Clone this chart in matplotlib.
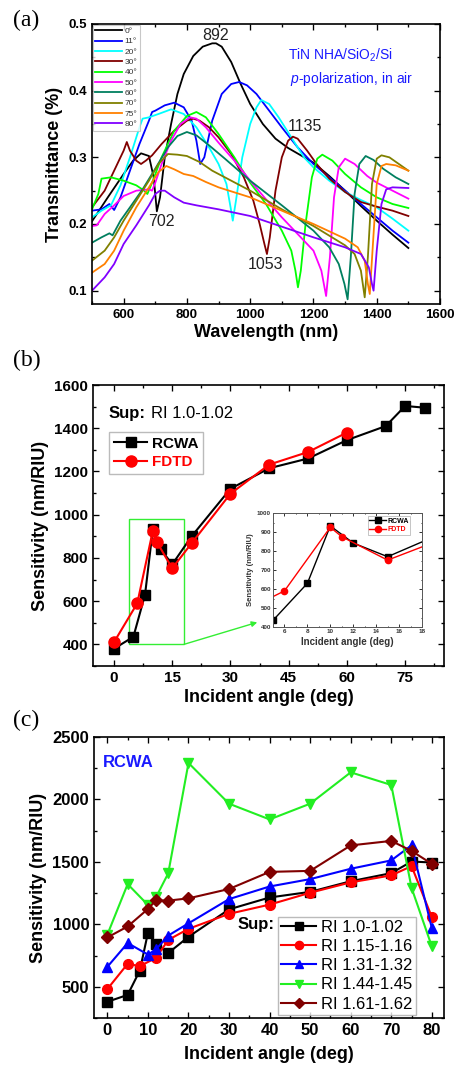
import numpy as np
import matplotlib
matplotlib.use("Agg")
import matplotlib.pyplot as plt
from matplotlib.ticker import MultipleLocator
from matplotlib.patches import Rectangle

plt.rcParams['font.family'] = ['Liberation Sans', 'DejaVu Sans']
plt.rcParams['font.weight'] = 'bold'
plt.rcParams['axes.labelweight'] = 'bold'
plt.rcParams['mathtext.fontset'] = 'custom'
plt.rcParams['mathtext.rm'] = 'Liberation Sans:weight=normal'
plt.rcParams['mathtext.it'] = 'Liberation Sans:style=italic:weight=normal'
plt.rcParams['mathtext.default'] = 'regular'

# (a) transmittance spectra, TiN NHA/SiO2/Si, p-pol, in air
wl_0 = [500, 550, 600, 630, 655, 680, 695, 705, 715, 730, 750, 770, 790, 820, 850, 880, 892, 910, 940, 970,
        1000, 1040, 1080, 1120, 1160, 1200, 1250, 1300, 1350, 1400, 1450, 1500]
T_0 = [0.204, 0.24, 0.275, 0.295, 0.306, 0.302, 0.27, 0.219, 0.24, 0.30, 0.35, 0.395, 0.425, 0.452, 0.466,
       0.471, 0.471, 0.466, 0.443, 0.41, 0.38, 0.35, 0.328, 0.314, 0.303, 0.292, 0.272, 0.25, 0.227, 0.205,
       0.184, 0.164]
wl_11 = [500, 530, 555, 570, 590, 620, 650, 680, 690, 700, 730, 760, 790, 815, 830, 842, 855, 880, 910, 940,
         965, 990, 1020, 1060, 1100, 1150, 1200, 1250, 1300, 1350, 1400, 1450, 1500]
T_11 = [0.22, 0.222, 0.23, 0.221, 0.24, 0.28, 0.32, 0.355, 0.368, 0.37, 0.378, 0.382, 0.375, 0.355, 0.325,
        0.29, 0.30, 0.355, 0.395, 0.41, 0.413, 0.408, 0.395, 0.37, 0.345, 0.315, 0.29, 0.27, 0.25, 0.23, 0.21,
        0.19, 0.172]
wl_20 = [500, 530, 560, 590, 620, 650, 660, 680, 710, 750, 790, 830, 870, 900, 925, 938, 945, 955, 975, 1000,
         1020, 1035, 1060, 1090, 1130, 1170, 1200, 1250, 1300, 1350, 1400, 1450, 1500]
T_20 = [0.21, 0.22, 0.228, 0.258, 0.3, 0.345, 0.358, 0.36, 0.365, 0.372, 0.365, 0.345, 0.315, 0.29, 0.26,
        0.225, 0.205, 0.235, 0.3, 0.35, 0.375, 0.386, 0.38, 0.36, 0.33, 0.3, 0.285, 0.265, 0.248, 0.236, 0.225,
        0.208, 0.19]
wl_30 = [500, 540, 575, 600, 610, 620, 640, 655, 670, 690, 720, 760, 800, 820, 840, 870, 900, 940, 980, 1010,
         1030, 1045, 1053, 1062, 1080, 1100, 1120, 1135, 1150, 1180, 1210, 1250, 1300, 1350, 1400, 1450, 1500]
T_30 = [0.225, 0.25, 0.285, 0.31, 0.323, 0.31, 0.295, 0.29, 0.295, 0.303, 0.32, 0.34, 0.355, 0.358, 0.355,
        0.345, 0.33, 0.305, 0.27, 0.235, 0.2, 0.17, 0.155, 0.18, 0.25, 0.3, 0.325, 0.331, 0.328, 0.31, 0.29,
        0.268, 0.248, 0.233, 0.226, 0.22, 0.212]
wl_40 = [500, 520, 530, 560, 600, 640, 665, 675, 690, 720, 760, 800, 830, 860, 900, 950, 1000, 1050, 1100,
         1130, 1143, 1151, 1160, 1175, 1195, 1212, 1228, 1260, 1300, 1350, 1400, 1450, 1500]
T_40 = [0.222, 0.245, 0.268, 0.27, 0.265, 0.258, 0.25, 0.245, 0.262, 0.3, 0.34, 0.362, 0.368, 0.36, 0.335,
        0.3, 0.262, 0.23, 0.19, 0.16, 0.13, 0.105, 0.13, 0.2, 0.27, 0.298, 0.304, 0.295, 0.275, 0.255, 0.24,
        0.23, 0.224]
wl_50 = [500, 515, 540, 570, 600, 640, 680, 690, 700, 720, 750, 780, 810, 830, 860, 900, 950, 1000, 1050, 1100,
         1150, 1200, 1225, 1240, 1252, 1265, 1280, 1300, 1330, 1370, 1400, 1450, 1500]
T_50 = [0.197, 0.198, 0.215, 0.228, 0.242, 0.25, 0.252, 0.25, 0.262, 0.29, 0.325, 0.35, 0.36, 0.358, 0.345,
        0.322, 0.295, 0.265, 0.237, 0.21, 0.185, 0.16, 0.13, 0.092, 0.15, 0.24, 0.285, 0.298, 0.29, 0.272,
        0.262, 0.25, 0.238]
wl_60 = [500, 530, 555, 565, 590, 620, 660, 700, 740, 770, 800, 830, 870, 920, 1000, 1100, 1200, 1250, 1280,
         1298, 1308, 1318, 1330, 1345, 1365, 1390, 1420, 1460, 1500]
T_60 = [0.172, 0.18, 0.186, 0.183, 0.205, 0.225, 0.252, 0.283, 0.315, 0.332, 0.338, 0.333, 0.318, 0.298,
        0.265, 0.228, 0.19, 0.165, 0.14, 0.11, 0.087, 0.15, 0.245, 0.29, 0.302, 0.296, 0.283, 0.27, 0.26]
wl_70 = [500, 540, 570, 600, 640, 680, 710, 740, 770, 800, 840, 880, 920, 1000, 1100, 1200, 1300, 1330, 1350,
         1362, 1372, 1385, 1400, 1415, 1440, 1470, 1500]
T_70 = [0.145, 0.16, 0.18, 0.205, 0.235, 0.265, 0.29, 0.305, 0.304, 0.302, 0.293, 0.28, 0.27, 0.25, 0.222,
        0.197, 0.168, 0.155, 0.13, 0.09, 0.15, 0.26, 0.298, 0.303, 0.3, 0.29, 0.28]
wl_75 = [500, 540, 570, 600, 640, 680, 710, 735, 760, 790, 820, 860, 900, 1000, 1100, 1200, 1300, 1340, 1362,
         1372, 1378, 1388, 1400, 1415, 1430, 1460, 1500]
T_75 = [0.127, 0.14, 0.16, 0.19, 0.225, 0.255, 0.278, 0.287, 0.282, 0.275, 0.272, 0.263, 0.255, 0.24, 0.22,
        0.2, 0.178, 0.165, 0.145, 0.11, 0.095, 0.17, 0.26, 0.287, 0.29, 0.288, 0.28]
wl_80 = [500, 540, 570, 600, 640, 680, 700, 715, 730, 760, 790, 830, 900, 1000, 1100, 1200, 1300, 1350, 1375,
         1385, 1390, 1400, 1415, 1430, 1450, 1500]
T_80 = [0.1, 0.12, 0.14, 0.17, 0.198, 0.228, 0.245, 0.25, 0.25, 0.24, 0.232, 0.228, 0.222, 0.212, 0.196, 0.18,
        0.165, 0.155, 0.135, 0.11, 0.1, 0.16, 0.23, 0.252, 0.255, 0.254]

spectra = [("0°", wl_0, T_0, "black"), ("11°", wl_11, T_11, "#0000ff"), ("20°", wl_20, T_20, "#00ffff"),
           ("30°", wl_30, T_30, "#800000"), ("40°", wl_40, T_40, "#00ff00"), ("50°", wl_50, T_50, "#ff00ff"),
           ("60°", wl_60, T_60, "#007f5f"), ("70°", wl_70, T_70, "#808000"), ("75°", wl_75, T_75, "#ff8000"),
           ("80°", wl_80, T_80, "#8000ff")]

# (b) sensitivity vs angle, RI 1.0-1.02
ang_rcwa = [0, 5, 8, 10, 12, 15, 20, 30, 40, 50, 60, 70, 75, 80]
S_rcwa = [380, 435, 630, 932, 842, 770, 900, 1120, 1215, 1260, 1345, 1410, 1503, 1495]
ang_fdtd = [0, 6, 10, 11, 15, 20, 30, 40, 50, 60]
S_fdtd = [410, 590, 925, 875, 752, 868, 1097, 1232, 1290, 1380]

# (c) RCWA sensitivity for several superstrates
ang_115 = [0, 5, 8, 12, 15, 20, 30, 40, 50, 60, 70, 75, 80]
S_115 = [482, 684, 665, 732, 875, 964, 1084, 1158, 1253, 1336, 1392, 1466, 1058]
ang_c = [0, 5, 10, 12, 15, 20, 30, 40, 50, 60, 70, 75, 80]
S_131 = [660, 850, 758, 800, 910, 1008, 1202, 1303, 1362, 1445, 1512, 1633, 970]
S_144 = [918, 1322, 1155, 1218, 1408, 2292, 1966, 1840, 1966, 2217, 2116, 1292, 823]
S_161 = [895, 983, 1123, 1192, 1190, 1208, 1283, 1420, 1428, 1632, 1668, 1588, 1484]

W, H = 457, 1078
fig = plt.figure(figsize=(W / 100, H / 100), dpi=100)


def box(l, t, r, b):
    return [l / W, 1 - b / H, (r - l) / W, (b - t) / H]


def style(ax, size, lw=1.2, maj=4, mnr=2):
    ax.tick_params(which='both', direction='in', top=True, right=True, width=lw * 0.8, labelsize=size)
    ax.tick_params(which='major', length=maj)
    ax.tick_params(which='minor', length=mnr)
    for s in ax.spines.values():
        s.set_linewidth(lw)


# ---- (a)
ax1 = fig.add_axes(box(92, 24, 440, 304))
for lab, x, y, c in spectra:
    ax1.plot(x, y, color=c, lw=1.3, label=lab)
ax1.set_xlim(500, 1600)
ax1.set_ylim(0.08, 0.5)
ax1.xaxis.set_major_locator(MultipleLocator(200))
ax1.xaxis.set_minor_locator(MultipleLocator(100))
ax1.yaxis.set_major_locator(MultipleLocator(0.1))
ax1.yaxis.set_minor_locator(MultipleLocator(0.05))
style(ax1, 9.5)
ax1.set_xlabel("Wavelength (nm)", fontsize=13, labelpad=2)
ax1.set_ylabel("Transmittance (%)", fontsize=13, labelpad=4)
leg = ax1.legend(loc='upper left', frameon=True, fancybox=False, borderaxespad=0.1,
                 handlelength=3.2, handletextpad=0.3, labelspacing=0.3, borderpad=0.3,
                 prop={'size': 6, 'weight': 'normal'})
leg.get_frame().set_edgecolor('#bbbbbb')
leg.get_frame().set_linewidth(0.8)
for t in leg.get_texts():
    t.set_color('#333333')
for txt, x, y in [("892", 889, 0.483), ("702", 719, 0.203), ("1053", 1047, 0.139), ("1135", 1174, 0.346)]:
    ax1.text(x, y, txt, fontsize=11.5, fontweight='normal', color='#222222', ha='center', va='center')
ax1.text(1284, 0.453, "TiN NHA/SiO$_2$/Si", color='#1a1aff', fontsize=10, fontweight='normal',
         ha='center', va='center')
ax1.text(1321, 0.417, "$\\it{p}$-polarization, in air", color='#1a1aff', fontsize=10, fontweight='normal',
         ha='center', va='center')

# ---- (b)
ax2 = fig.add_axes(box(93, 385, 444, 666))
ax2.plot(ang_rcwa, S_rcwa, color='black', lw=1.5, marker='s', ms=7, label='RCWA')
ax2.plot(ang_fdtd, S_fdtd, color='red', lw=1.5, marker='o', ms=8, label='FDTD')
ax2.set_xlim(-5.4, 85)
ax2.set_ylim(300, 1600)
ax2.xaxis.set_major_locator(MultipleLocator(15))
ax2.xaxis.set_minor_locator(MultipleLocator(7.5))
ax2.yaxis.set_major_locator(MultipleLocator(200))
ax2.yaxis.set_minor_locator(MultipleLocator(100))
style(ax2, 11)
ax2.set_xlabel("Incident angle (deg)", fontsize=13, labelpad=3)
ax2.set_ylabel("Sensitivity (nm/RIU)", fontsize=13, labelpad=4)
leg2 = ax2.legend(loc='upper left', bbox_to_anchor=(0.046, 0.833), borderaxespad=0, fontsize=11,
                  fancybox=False, handlelength=2.2, handletextpad=0.3, labelspacing=0.3, borderpad=0.3)
leg2.get_frame().set_edgecolor('#aaaaaa')
leg2.get_texts()[1].set_color('red')
ax2.text(0.043, 0.897, "Sup:", transform=ax2.transAxes, fontsize=12, va='center', ha='left')
ax2.text(0.165, 0.897, "RI 1.0-1.02", transform=ax2.transAxes, fontsize=12, fontweight='normal',
         va='center', ha='left')
ax2.add_patch(Rectangle((4, 400), 14, 578, fill=False, edgecolor='#33ee33', lw=1))
ax2.annotate('', xy=(36.9, 502), xytext=(18, 400),
             arrowprops=dict(arrowstyle='-|>', color='#33ee33', lw=1, mutation_scale=8, shrinkA=0, shrinkB=0))

# inset
ins = fig.add_axes(box(273, 513, 422, 627))
ins.plot(ang_rcwa, S_rcwa, color='black', lw=1, marker='s', ms=4, label='RCWA')
ins.plot(ang_fdtd, S_fdtd, color='red', lw=1, marker='o', ms=4.5, label='FDTD')
ins.set_xlim(5, 18)
ins.set_ylim(400, 1000)
ins.xaxis.set_major_locator(MultipleLocator(2))
ins.xaxis.set_minor_locator(MultipleLocator(1))
ins.yaxis.set_major_locator(MultipleLocator(100))
ins.yaxis.set_minor_locator(MultipleLocator(50))
style(ins, 4.5, lw=0.7, maj=2, mnr=1)
for s in ins.spines.values():
    s.set_edgecolor('#555555')
ins.tick_params(labelcolor='#333333', pad=1.5)
ins.set_xlabel("Incident angle (deg)", fontsize=7, color='#333333', labelpad=2)
ins.set_ylabel("Sensitivity (nm/RIU)", fontsize=5.5, color='#333333', labelpad=2)
leg3 = ins.legend(loc='upper right', bbox_to_anchor=(0.92, 0.97), borderaxespad=0, fontsize=5,
                  fancybox=False, handlelength=2.4, handletextpad=0.2, labelspacing=0.2, borderpad=0.2)
leg3.get_frame().set_edgecolor('#aaaaaa')
leg3.get_frame().set_linewidth(0.6)
leg3.get_texts()[1].set_color('red')

# ---- (c)
ax3 = fig.add_axes(box(94, 737, 444, 1018))
ax3.plot(ang_rcwa, S_rcwa, color='black', lw=1.5, marker='s', ms=6.5, label='RI 1.0-1.02')
ax3.plot(ang_115, S_115, color='red', lw=1.5, marker='o', ms=7, label='RI 1.15-1.16')
ax3.plot(ang_c, S_131, color='blue', lw=1.5, marker='^', ms=7.5, label='RI 1.31-1.32')
ax3.plot(ang_c, S_144, color='#22ee22', lw=1.5, marker='v', ms=7.5, label='RI 1.44-1.45')
ax3.plot(ang_c, S_161, color='#800000', lw=1.5, marker='D', ms=6, label='RI 1.61-1.62')
ax3.set_xlim(-3.3, 83)
ax3.set_ylim(250, 2500)
ax3.xaxis.set_major_locator(MultipleLocator(10))
ax3.xaxis.set_minor_locator(MultipleLocator(5))
ax3.yaxis.set_major_locator(MultipleLocator(500))
ax3.yaxis.set_minor_locator(MultipleLocator(250))
style(ax3, 12)
ax3.set_xlabel("Incident angle (deg)", fontsize=13, labelpad=6)
ax3.set_ylabel("Sensitivity (nm/RIU)", fontsize=13, labelpad=4)
leg4 = ax3.legend(loc='lower left', bbox_to_anchor=(0.526, 0.011), borderaxespad=0,
                  prop={'size': 12, 'weight': 'normal'}, fancybox=False, handlelength=2.1,
                  handletextpad=0.3, labelspacing=0.25, borderpad=0.2, markerscale=0.85)
leg4.get_frame().set_edgecolor('#aaaaaa')
ax3.text(0.517, 0.331, "Sup:", transform=ax3.transAxes, fontsize=12, ha='right', va='center')
ax3.text(0.026, 0.911, "RCWA", transform=ax3.transAxes, fontsize=12, color='#1a1aff', ha='left', va='center')

for lab, y in [("(a)", 20), ("(b)", 360), ("(c)", 720)]:
    fig.text(13 / W, 1 - y / H, lab, family=['Liberation Serif', 'DejaVu Serif'], fontweight='normal',
             fontsize=17, ha='left', va='center')

fig.savefig("out.png", dpi=100)
